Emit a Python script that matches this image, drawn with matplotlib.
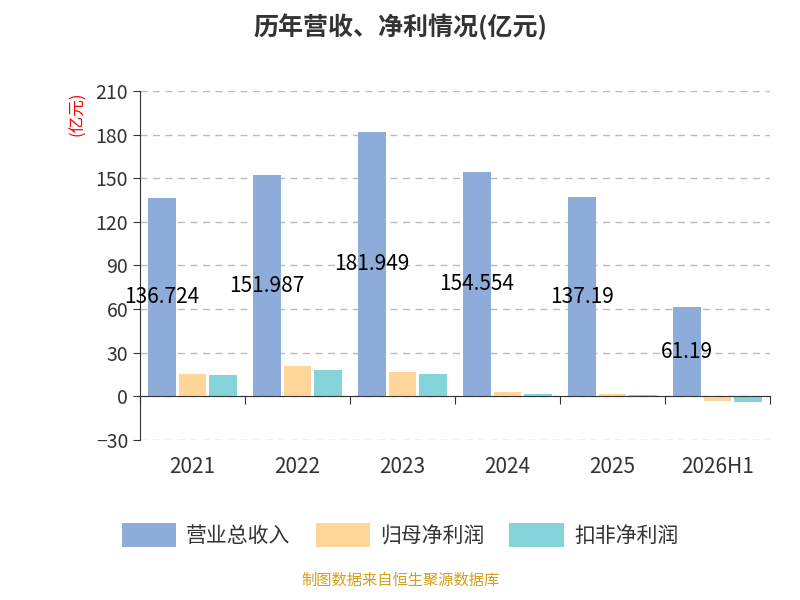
import matplotlib
matplotlib.use("Agg")
import matplotlib.pyplot as plt
import numpy as np

plt.rcParams['font.family'] = ['Noto Sans CJK SC', 'DejaVu Sans']

categories = ["2021", "2022", "2023", "2024", "2025", "2026H1"]
revenue = [136.724, 151.987, 181.949, 154.554, 137.19, 61.19]
net_profit = [15.6, 20.6, 16.8, 3.0, 1.6, -3.4]
deducted_profit = [14.6, 18.3, 15.6, 1.6, 0.6, -3.6]
series_names = ["营业总收入", "归母净利润", "扣非净利润"]
colors = ["#8EACDA", "#FFD699", "#85D4D9"]

fig = plt.figure(figsize=(8, 6), dpi=100)
ax = fig.add_axes([0.175, 0.2667, 0.7875, 0.5817])
x = np.arange(len(categories))
w = 0.26
off = 0.29
ax.bar(x - off, revenue, w, color=colors[0], label=series_names[0])
ax.bar(x, net_profit, w, color=colors[1], label=series_names[1])
ax.bar(x + off, deducted_profit, w, color=colors[2], label=series_names[2])
for xi, v in zip(x, revenue):
    ax.text(xi - off, v / 2, f"{v:g}", ha='center', va='center', fontsize=15, color='black')

ax.set_xlim(-0.5, len(categories) - 0.5)
ax.set_ylim(-30, 210)
ax.set_yticks(range(-30, 211, 30))
ax.tick_params(axis='y', labelsize=14, labelcolor='#333333', length=5, color='#333333')
ax.yaxis.grid(True, linestyle=(0, (5, 4)), color='#bbbbbb', linewidth=1)
ax.set_axisbelow(True)
for s in ['top', 'right']:
    ax.spines[s].set_visible(False)
ax.spines['left'].set_color('#333333')
ax.spines['bottom'].set_position(('data', 0))
ax.spines['bottom'].set_color('#333333')
ax.set_xticks(np.arange(-0.5, len(categories)), minor=False)
ax.set_xticklabels([])
ax.set_xticks(x, minor=True)
ax.set_xticklabels(categories, minor=True)
ax.tick_params(axis='x', which='major', length=6, direction='out', color='#333333')
ax.tick_params(axis='x', which='minor', length=0, pad=43, labelsize=15, labelcolor='#333333')

fig.text(0.097, 0.81, "(亿元)", rotation=90, color='red', fontsize=12, ha='center', va='center')
fig.text(0.5, 0.955, "历年营收、净利情况(亿元)", ha='center', va='center', fontsize=18,
         fontweight='bold', color='#333333')
fig.legend(loc='center', bbox_to_anchor=(0.5, 0.108), ncol=3, frameon=False, fontsize=15,
           handlelength=2.6, handleheight=1.4, columnspacing=1.2, handletextpad=0.5,
           labelcolor='#333333')
fig.text(0.5, 0.018, "制图数据来自恒生聚源数据库", ha='center', va='bottom', fontsize=11,
         color='#D4A017')
fig.savefig("out.png", dpi=100)
